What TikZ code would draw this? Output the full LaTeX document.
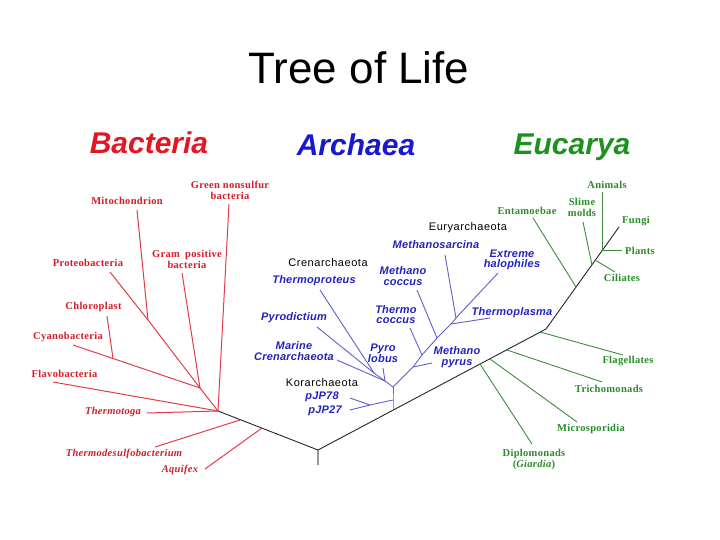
\documentclass[tikz,border=0pt]{standalone}
\usepackage{fontspec}
\setmainfont{Liberation Sans}
\newfontfamily\lserif{Liberation Serif}[LetterSpace=3]
\newfontfamily\lsans{Liberation Sans}[LetterSpace=5]
\newfontfamily\lsansb{Liberation Sans}[LetterSpace=2]
\definecolor{bacT}{RGB}{228,22,34}
\definecolor{arcT}{RGB}{24,24,205}
\definecolor{eucT}{RGB}{28,145,32}
\definecolor{bacL}{RGB}{212,28,42}
\definecolor{arcL}{RGB}{34,34,190}
\definecolor{eucL}{RGB}{40,140,40}
\definecolor{bacLine}{RGB}{226,60,72}
\definecolor{arcLine}{RGB}{95,95,205}
\definecolor{eucLine}{RGB}{60,140,60}
\definecolor{rootGray}{RGB}{150,150,150}
\tikzset{
  domtitle/.style={anchor=base, inner sep=0pt, font=\bfseries\itshape\fontsize{30}{30}\selectfont},
  baclab/.style={inner sep=0pt, align=center, text=bacL, font=\lserif\bfseries\fontsize{10.5}{11}\selectfont},
  baclabit/.style={baclab, font=\lserif\bfseries\itshape\fontsize{10.5}{11}\selectfont},
  euclab/.style={inner sep=0pt, align=center, text=eucL, font=\lserif\bfseries\fontsize{10.5}{11}\selectfont},
  arclab/.style={inner sep=0pt, align=center, text=arcL, font=\lsansb\bfseries\itshape\fontsize{11}{10.5}\selectfont},
  grplab/.style={inner sep=0pt, align=center, text=black, font=\lsans\fontsize{11}{11}\selectfont},
  bline/.style={draw=bacLine, line width=1pt},
  aline/.style={draw=arcLine, line width=0.9pt},
  eline/.style={draw=eucLine, line width=0.9pt},
  tline/.style={draw=black!85, line width=0.9pt},
}
\begin{document}
\begin{tikzpicture}[x=1pt,y=-1pt]
\useasboundingbox (0,0) rectangle (720,540);
% titles
\node[anchor=base, inner sep=0pt, font=\fontsize{44}{44}\selectfont] (title) at (359,84) {Tree of Life};
\node[domtitle, text=bacT] (bact) at (149,154) {Bacteria};
\node[domtitle, text=arcT] (arch) at (356,156) {Archaea};
\node[domtitle, text=eucT] (euca) at (572,155) {Eucarya};

% ---------- coordinates: trunk
\coordinate (root) at (318,450);
\coordinate (rootb) at (318,465);
\coordinate (hubB) at (218,411);
\coordinate (bend) at (546,329);
\coordinate (fungiE) at (619,227);
\coordinate (aB) at (393,410);

% ---------- bacteria coordinates
\coordinate (aqJ) at (262,428);
\coordinate (tdJ) at (240,420);
\coordinate (aqE) at (205,469);
\coordinate (tdE) at (155,447);
\coordinate (tgE) at (147,413);
\coordinate (flE) at (53,382);
\coordinate (cyE) at (73,345);
\coordinate (chJ) at (113,358.5);
\coordinate (chE) at (107,316);
\coordinate (pmJ) at (148,320);
\coordinate (prE) at (110,272);
\coordinate (miE) at (137,210);
\coordinate (bJ) at (200,388);
\coordinate (gpE) at (182,273);
\coordinate (gnE) at (229,204);

% ---------- eukaryote coordinates
\coordinate (dpJ) at (480,364);
\coordinate (dpE) at (532,444);
\coordinate (msJ) at (490,359);
\coordinate (msE) at (577,422);
\coordinate (trJ) at (507,350);
\coordinate (trE) at (602,382);
\coordinate (fgJ) at (540,332);
\coordinate (fgE) at (623,355);
\coordinate (enJ) at (576,287);
\coordinate (enE) at (533,218);
\coordinate (smJ) at (592,265);
\coordinate (smE) at (583,222);
\coordinate (ciJ) at (595,260);
\coordinate (ciE) at (615,272);
\coordinate (anJ) at (602.5,250);
\coordinate (anE) at (602.5,192);
\coordinate (plE) at (622,250);

% ---------- archaea coordinates
\coordinate (aT) at (393,387);
\coordinate (korV) at (393,400);
\coordinate (korJ) at (370,405);
\coordinate (p78E) at (350,398);
\coordinate (p27E) at (350,410);
\coordinate (crJ) at (385,381);
\coordinate (tpJ) at (374,373);
\coordinate (thpE) at (320,290);
\coordinate (pydE) at (317,327);
\coordinate (mcE) at (337,360);
\coordinate (plbE) at (383,368);
\coordinate (e1) at (413,367);
\coordinate (e2) at (422,355);
\coordinate (e3) at (437,338);
\coordinate (e4) at (451,324);
\coordinate (e5) at (456,318);
\coordinate (halE) at (498,273);
\coordinate (mpE) at (432,363);
\coordinate (tcE) at (410,328);
\coordinate (mccE) at (417,290);
\coordinate (tplE) at (490,318);
\coordinate (msaE) at (445,255);

% ---------- trunk lines
\draw[draw=rootGray, line width=2pt] (root) -- (rootb);
\draw[tline] (hubB) -- (root) -- (bend) -- (fungiE);

% ---------- bacteria lines
\draw[bline] (aqE) -- (aqJ);
\draw[bline] (tdE) -- (tdJ);
\draw[bline] (tgE) -- (hubB);
\draw[bline] (flE) -- (hubB);
\draw[bline] (cyE) -- (chJ) -- (bJ);
\draw[bline] (chE) -- (chJ);
\draw[bline] (prE) -- (pmJ);
\draw[bline] (miE) -- (pmJ);
\draw[bline] (pmJ) -- (bJ);
\draw[bline] (gpE) -- (bJ);
\draw[bline] (bJ) -- (hubB);
\draw[bline] (gnE) -- (hubB);

% ---------- eukaryote lines
\draw[eline] (dpJ) -- (dpE);
\draw[eline] (msJ) -- (msE);
\draw[eline] (trJ) -- (trE);
\draw[eline] (fgJ) -- (fgE);
\draw[eline] (enJ) -- (enE);
\draw[eline] (smJ) -- (smE);
\draw[eline] (ciJ) -- (ciE);
\draw[eline] (anJ) -- (anE);
\draw[eline] (anJ) -- (plE);

% ---------- archaea lines
\draw[aline] (aB) -- (korV) -- (aT);
\draw[aline] (korV) -- (korJ);
\draw[aline] (korJ) -- (p78E);
\draw[aline] (korJ) -- (p27E);
\draw[aline] (aT) -- (crJ) -- (tpJ);
\draw[aline] (tpJ) -- (thpE);
\draw[aline] (tpJ) -- (pydE);
\draw[aline] (crJ) -- (mcE);
\draw[aline] (crJ) -- (plbE);
\draw[aline] (aT) -- (e1) -- (e2) -- (e3) -- (e4) -- (e5) -- (halE);
\draw[aline] (e1) -- (mpE);
\draw[aline] (e2) -- (tcE);
\draw[aline] (e3) -- (mccE);
\draw[aline] (e4) -- (tplE);
\draw[aline] (e5) -- (msaE);

% ---------- bacteria labels
\node[baclab] (gnL) at (230,190.5) {Green nonsulfur\\bacteria};
\node[baclab] (miL) at (127,201) {Mitochondrion};
\node[baclab] (gpL) at (187,259) {Gram\enspace positive\\bacteria};
\node[baclab] (prL) at (88,263) {Proteobacteria};
\node[baclab] (chL) at (93.5,307) {Chloroplast};
\node[baclab] (cyL) at (68,337) {Cyanobacteria};
\node[baclab] (flL) at (64.5,374) {Flavobacteria};
\node[baclabit] (tgL) at (113,412) {Thermotoga};
\node[baclabit] (tdL) at (124,454) {Thermodesulfobacterium};
\node[baclabit] (aqL) at (180,470) {Aquifex};

% ---------- archaea labels
\node[grplab] (crenL) at (328,263) {Crenarchaeota};
\node[grplab] (euryL) at (468,228) {Euryarchaeota};
\node[grplab] (korL) at (322,383) {Korarchaeota};
\node[arclab] (thpL) at (314,281) {Thermoproteus};
\node[arclab] (pydL) at (294,318) {Pyrodictium};
\node[arclab] (mcL) at (294,351) {Marine\\Crenarchaeota};
\node[arclab] (plbL) at (383,353.5) {Pyro\\lobus};
\node[arclab] (tcL) at (396,314.5) {Thermo\\coccus};
\node[arclab] (mccL) at (403,276) {Methano\\coccus};
\node[arclab] (msaL) at (436,245) {Methanosarcina};
\node[arclab] (halL) at (512,260) {Extreme\\halophiles};
\node[arclab] (tplL) at (512,313) {Thermoplasma};
\node[arclab] (mpL) at (457,357) {Methano\\pyrus};
\node[arclab] (p78L) at (322,397) {pJP78};
\node[arclab] (p27L) at (325,411) {pJP27};

% ---------- eukaryote labels
\node[euclab] (anL) at (607,185) {Animals};
\node[euclab] (smL) at (582,207) {Slime\\molds};
\node[euclab] (enL) at (527,211) {Entamoebae};
\node[euclab] (fuL) at (636,221) {Fungi};
\node[euclab] (plL) at (640,251) {Plants};
\node[euclab] (ciL) at (622,278) {Ciliates};
\node[euclab] (fgL) at (628,361) {Flagellates};
\node[euclab] (trL) at (609,389) {Trichomonads};
\node[euclab] (mpsL) at (591,429) {Microsporidia};
\node[euclab] (dpL) at (534,459.5) {Diplomonads\\(\textit{Giardia})};
\end{tikzpicture}
\end{document}
